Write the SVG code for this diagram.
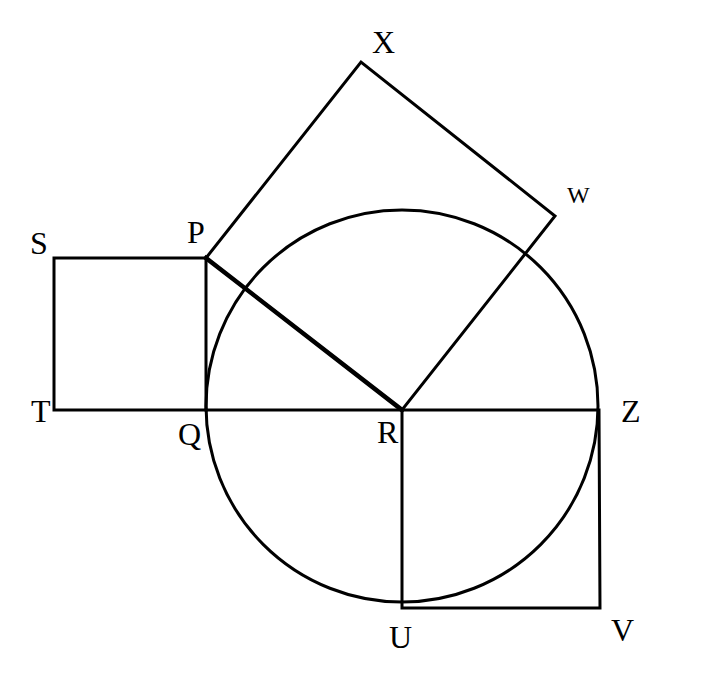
<svg xmlns="http://www.w3.org/2000/svg" width="711" height="686" viewBox="0 0 711 686">
<style>
.ln{fill:none;stroke:#000;stroke-width:3;stroke-linejoin:miter;stroke-linecap:square}
.thick{stroke-width:4.5}
.lb{font-family:"Liberation Serif","Times New Roman",serif;font-size:32px;fill:#000}
</style>
<rect width="711" height="686" fill="#fff"/>
<g id="connectors">
<circle id="circle" class="ln" cx="402" cy="406" r="196"/>
<polygon id="square-PQTS" class="ln" points="54,258 206,258 206,410 54,410"/>
<polygon id="square-PXWR" class="ln" points="206,258 361,62 555,216 402,410"/>
<polygon id="square-RZVU" class="ln" points="402,410 599,410 600,608 402,608"/>
<line id="line-QR" class="ln" x1="206" y1="410" x2="402" y2="410"/>
<line id="line-PR" class="ln thick" x1="206" y1="258" x2="402" y2="410"/>
</g>
<g id="labels">
<g id="S"><text class="lb" x="30" y="254">S</text></g>
<g id="P"><text class="lb" x="187" y="243">P</text></g>
<g id="T"><text class="lb" x="31" y="422">T</text></g>
<g id="Q"><text class="lb" x="178" y="445">Q</text></g>
<g id="R"><text class="lb" x="377" y="443">R</text></g>
<g id="Z"><text class="lb" x="621" y="422">Z</text></g>
<g id="U"><text class="lb" x="389" y="648">U</text></g>
<g id="V"><text class="lb" x="611" y="641">V</text></g>
<g id="X"><text class="lb" x="372" y="53">X</text></g>
<g id="W"><text class="lb" x="567" y="203" style="font-size:24px">W</text></g>
</g>
</svg>
